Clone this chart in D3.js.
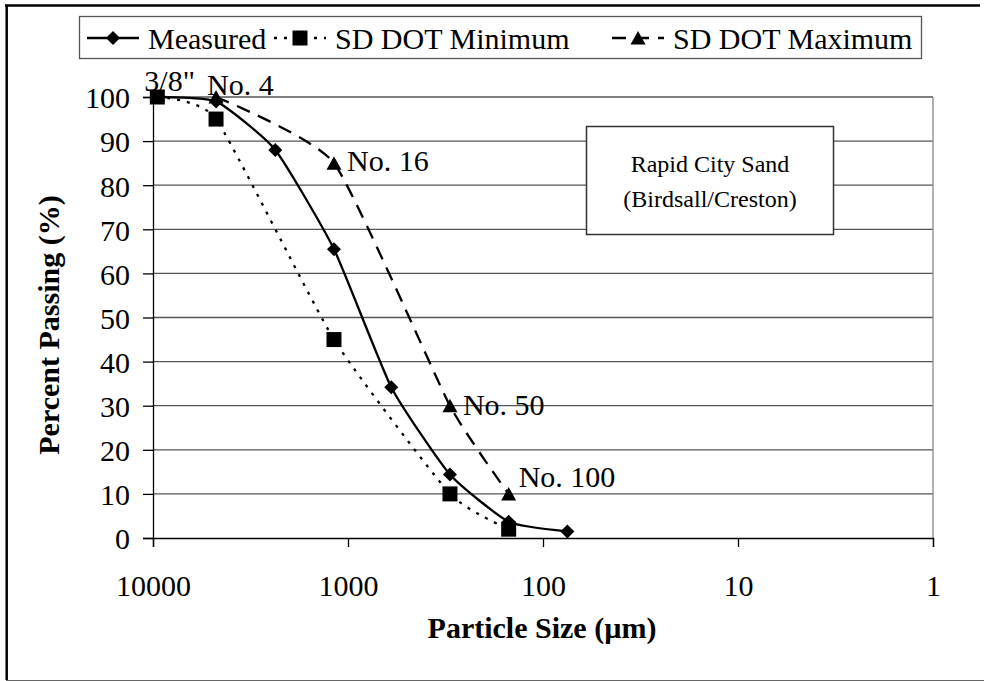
<!DOCTYPE html>
<html>
<head>
<meta charset="utf-8">
<script src="https://cdn.jsdelivr.net/npm/d3@7"></script>
<style>
body{margin:0;background:#fff;}
svg text{font-family:"Liberation Serif","Times New Roman",serif;fill:#000;}
</style>
</head>
<body>
<div class="container"></div>
<script>
//sieve sizes in micrometres
var sieveNames = ['3/8"', 'No. 4', 'No. 8', 'No. 16', 'No. 30', 'No. 50', 'No. 100', 'No. 200'];
var sieveSizes = [9500, 4750, 2360, 1180, 600, 300, 150, 75];

var measuredPassing = [100, 99, 88, 65.5, 34.2, 14.4, 3.7, 1.5];

var minSizes = [9500, 4750, 1180, 300, 150];
var minPassing = [100, 95, 45, 10, 2];

var maxSizes = [4750, 1180, 300, 150];
var maxPassing = [100, 85, 30, 10];

var xTicks = [10000, 1000, 100, 10, 1];
var yTicks = [0, 10, 20, 30, 40, 50, 60, 70, 80, 90, 100];

var legendNames = ["Measured", "SD DOT Minimum", "SD DOT Maximum"];
var boxLines = ["Rapid City Sand", "(Birdsall/Creston)"];

//which sieves get a label, and nudges for the label
var labelled = ['3/8"', 'No. 4', 'No. 16', 'No. 50', 'No. 100'];
var labelNudge = {'3/8"': [-13, -6], 'No. 4': [-9, -2], 'No. 16': [13, 8], 'No. 50': [13, 9], 'No. 100': [10, -7]};

var W = 984, H = 681;
var left = 153, right = 933, top_ = 97, bottom = 538;
var serif = '"Liberation Serif","Times New Roman",serif';

var svg = d3.select(".container").append("svg")
	.attr("width", W)
	.attr("height", H);

var x = d3.scaleLog().domain([10000, 1]).range([left, right]);
var y = d3.scaleLinear().domain([0, 100]).range([bottom, top_]);

function pts(sizes, vals){
	return sizes.map(function(s, i){ return [s, vals[i]]; });
}

// outer frame (only top, left, bottom show)
svg.append("line").attr("x1", 5).attr("x2", 980).attr("y1", 5.5).attr("y2", 5.5)
	.attr("stroke", "#000").attr("stroke-width", 2.5);
svg.append("line").attr("x1", 6.7).attr("x2", 6.7).attr("y1", 5).attr("y2", 680)
	.attr("stroke", "#000").attr("stroke-width", 2.5);
svg.append("line").attr("x1", 6).attr("x2", 984).attr("y1", 680.5).attr("y2", 680.5)
	.attr("stroke", "#666").attr("stroke-width", 1);

// gridlines
svg.append("g").selectAll("line.grid")
	.data(yTicks.filter(function(d){ return d > 0; }))
	.enter().append("line")
	.attr("x1", left).attr("x2", right)
	.attr("y1", function(d){ return y(d); })
	.attr("y2", function(d){ return y(d); })
	.attr("stroke", "#555").attr("stroke-width", 1.3);

// right border of plot
svg.append("line").attr("x1", right).attr("x2", right).attr("y1", top_).attr("y2", bottom)
	.attr("stroke", "#888").attr("stroke-width", 1.3);

// y axis
var yAxis = d3.axisLeft(y).tickValues(yTicks).tickSize(10).tickPadding(13);
var gy = svg.append("g").attr("transform", "translate(" + left + ",0)").call(yAxis);
gy.select(".domain").attr("stroke", "#000").attr("stroke-width", 1.3);
gy.selectAll(".tick line").attr("stroke", "#000").attr("stroke-width", 1.3);
gy.selectAll(".tick text")
	.style("font-family", serif).style("font-size", "30px")
	.attr("dy", "0.36em").attr("fill", "#000");

// x axis
var xAxis = d3.axisBottom(x).tickValues(xTicks).tickFormat(d3.format("d")).tickSize(9).tickPadding(28);
var gx = svg.append("g").attr("transform", "translate(0," + bottom + ")").call(xAxis);
gx.select(".domain").attr("stroke", "#000").attr("stroke-width", 1.3);
gx.selectAll(".tick line").attr("stroke", "#000").attr("stroke-width", 1.3);
gx.selectAll(".tick text")
	.style("font-family", serif).style("font-size", "30px").attr("fill", "#000");

// axis titles
svg.append("text")
	.attr("x", 542).attr("y", 638)
	.attr("text-anchor", "middle")
	.style("font-family", serif)
	.style("font-size", "30px").style("font-weight", "bold")
	.text("Particle Size (\u00b5m)");

svg.append("text")
	.attr("transform", "translate(59,325) rotate(-90)")
	.attr("text-anchor", "middle")
	.style("font-family", serif)
	.style("font-size", "30px").style("font-weight", "bold")
	.text("Percent Passing (%)");

// series, lightly smoothed like the spreadsheet lines
var smooth = d3.line()
	.x(function(d){ return x(d[0]); })
	.y(function(d){ return y(d[1]); })
	.curve(d3.curveCardinal.tension(0.5));

var series = [
	{name: legendNames[0], data: pts(sieveSizes, measuredPassing), dash: null, sym: "diamond"},
	{name: legendNames[1], data: pts(minSizes, minPassing), dash: "3,7", sym: "square"},
	{name: legendNames[2], data: pts(maxSizes, maxPassing), dash: "14,9", sym: "triangle"}
];

function marker(sym){
	if(sym == "diamond") return "M0,-7L7,0L0,7L-7,0Z";
	if(sym == "square") return "M-7.5,-7.5H7.5V7.5H-7.5Z";
	return "M0,-7L7.5,6.5H-7.5Z";
}

series.forEach(function(s){
	svg.append("path")
		.datum(s.data)
		.attr("d", smooth)
		.attr("fill", "none")
		.attr("stroke", "#000")
		.attr("stroke-width", 2.3)
		.attr("stroke-dasharray", s.dash);
	svg.append("g").selectAll("path")
		.data(s.data)
		.enter().append("path")
		.attr("transform", function(d){ return "translate(" + x(d[0]) + "," + y(d[1]) + ")"; })
		.attr("d", marker(s.sym))
		.attr("fill", "#000");
});

// sieve labels
svg.append("g").selectAll("text")
	.data(labelled)
	.enter().append("text")
	.attr("x", function(d){
		var s = sieveSizes[sieveNames.indexOf(d)];
		return x(s) + labelNudge[d][0];
	})
	.attr("y", function(d){
		var s = sieveSizes[sieveNames.indexOf(d)];
		var mi = maxSizes.indexOf(s);
		var v = mi >= 0 ? maxPassing[mi] : 100;
		return y(v) + labelNudge[d][1];
	})
	.style("font-family", serif)
	.style("font-size", "30px")
	.text(function(d){ return d; });

// text box
svg.append("rect").attr("x", 586.5).attr("y", 126.5).attr("width", 247).attr("height", 108)
	.attr("fill", "#fff").attr("stroke", "#333").attr("stroke-width", 1.5);
svg.selectAll("text.box")
	.data(boxLines)
	.enter().append("text")
	.attr("class", "box")
	.attr("x", 710)
	.attr("y", function(d, i){ return 172 + i * 35; })
	.attr("text-anchor", "middle")
	.style("font-family", serif)
	.style("font-size", "24px")
	.text(function(d){ return d; });

// legend
var legX = [87, 274, 612];
svg.append("rect").attr("x", 79.5).attr("y", 16.5).attr("width", 842).attr("height", 42)
	.attr("fill", "#fff").attr("stroke", "#555").attr("stroke-width", 1.3);
var leg = svg.append("g").selectAll("g")
	.data(series)
	.enter().append("g")
	.attr("transform", function(d, i){ return "translate(" + legX[i] + ",38)"; });
leg.append("line")
	.attr("x1", 0).attr("x2", 52)
	.attr("stroke", "#000").attr("stroke-width", 2.3)
	.attr("stroke-dasharray", function(d){ return d.dash; });
leg.append("path")
	.attr("transform", "translate(26,0)")
	.attr("d", function(d){ return marker(d.sym); })
	.attr("fill", "#000");
leg.append("text")
	.attr("x", 61).attr("y", 11)
	.style("font-family", serif)
	.style("font-size", "30px")
	.text(function(d){ return d.name; });
</script>
</body>
</html>
